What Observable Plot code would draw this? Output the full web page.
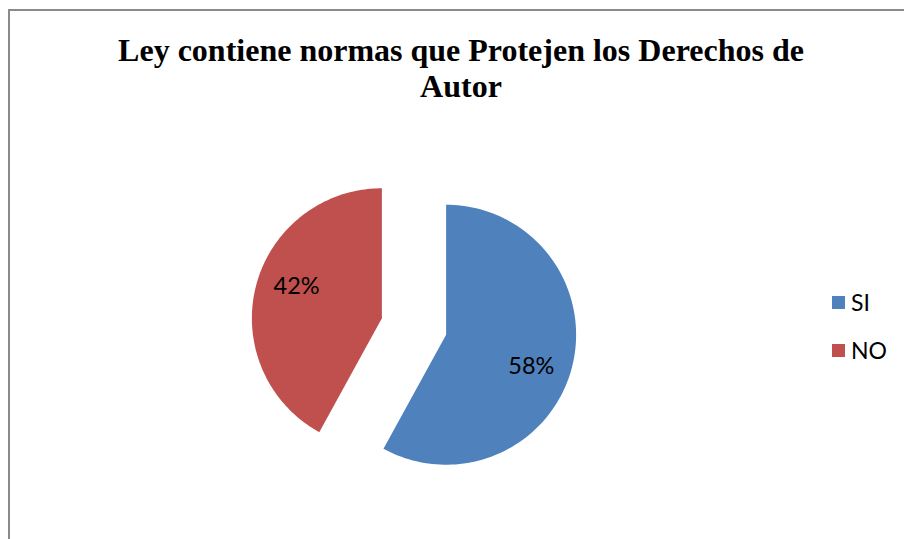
<!DOCTYPE html>
<html>
<head>
<meta charset="utf-8">
<script src="https://cdn.jsdelivr.net/npm/d3@7"></script>
<script src="https://cdn.jsdelivr.net/npm/@observablehq/plot@0.6"></script>
<style>
  html, body { margin: 0; padding: 0; background: #fff; overflow: hidden; }
  #page { position: relative; width: 904px; height: 539px; overflow: hidden; background: #fff; }
  #ltop { position: absolute; left: 8px; top: 9px; width: 896px; height: 2px; background: #8a8a8a; }
  #lleft { position: absolute; left: 8px; top: 9px; width: 2px; height: 530px; background: #8a8a8a; }
  #title { position: absolute; left: 8px; width: 906px; top: 32px; text-align: center;
           font-family: "Liberation Serif", "Times New Roman", serif; font-weight: bold; font-size: 32px; line-height: 36px; color: #000; }
  #chart { position: absolute; left: 0; top: 110px; }
  #legend { position: absolute; left: 832px; top: 288px; font-family: Lato, "Open Sans", sans-serif; font-size: 23px; color: #000; }
  .item { position: absolute; left: 0; display: flex; align-items: center; white-space: nowrap; }
  .sw { width: 13px; height: 13px; margin-right: 6px; }
</style>
</head>
<body>
<div id="page">
  <div id="ltop"></div>
  <div id="lleft"></div>
  <div id="title">Ley contiene normas que Protejen los Derechos de<br>Autor</div>
  <div id="chart"></div>
  <div id="legend"></div>
</div>
<script>
// ---- data ----
const categories = ["SI", "NO"];
const values = [58, 42];
const labels = ["58%", "42%"];
const colors = ["#4F81BD", "#C0504D"];

// ---- geometry derived from data ----
const explode = 0.255;      // explosion distance, in radius units
const labelR = 0.70;        // label distance, in radius units
const labelRot = 6 * Math.PI / 180;

const rows = categories.map((c, i) => ({cat: c, value: values[i], label: labels[i]}));
const arcs = d3.pie().sort(null).value(d => d.value)(rows);

const slicePts = [];
const labelPts = [];
arcs.forEach(a => {
  const mid = (a.startAngle + a.endAngle) / 2;
  const cx = explode * Math.sin(mid), cy = explode * Math.cos(mid);
  slicePts.push({cat: a.data.cat, x: cx, y: cy});
  const n = 120;
  for (let k = 0; k <= n; k++) {
    const t = a.startAngle + (a.endAngle - a.startAngle) * k / n;
    slicePts.push({cat: a.data.cat, x: cx + Math.sin(t), y: cy + Math.cos(t)});
  }
  const la = mid + labelRot;
  labelPts.push({cat: a.data.cat, text: a.data.label,
                 x: cx + labelR * Math.sin(la), y: cy + labelR * Math.cos(la)});
});

const R = 130, W = 904, H = 429, CX = 413.5, CY = 216;
const plot = Plot.plot({
  width: W, height: H,
  marginLeft: CX - R, marginRight: W - (CX + R),
  marginTop: CY - R, marginBottom: H - (CY + R),
  x: {domain: [-1, 1], axis: null},
  y: {domain: [-1, 1], axis: null},
  color: {domain: categories, range: colors},
  style: {background: "transparent", overflow: "visible"},
  marks: [
    Plot.line(slicePts, {x: "x", y: "y", z: "cat", fill: "cat", stroke: "none", curve: "linear-closed"}),
    Plot.text(labelPts, {x: "x", y: "y", text: "text", fill: "#000",
                         fontSize: 23.5, fontFamily: "Lato, 'Open Sans', sans-serif"})
  ]
});
document.getElementById("chart").appendChild(plot);

// legend
const leg = document.getElementById("legend");
categories.forEach((c, i) => {
  const it = document.createElement("div");
  it.className = "item";
  it.style.top = (i * 48) + "px";
  const sw = document.createElement("div");
  sw.className = "sw";
  sw.style.background = colors[i];
  const tx = document.createElement("span");
  tx.textContent = c;
  it.appendChild(sw); it.appendChild(tx);
  leg.appendChild(it);
});
</script>
</body>
</html>
